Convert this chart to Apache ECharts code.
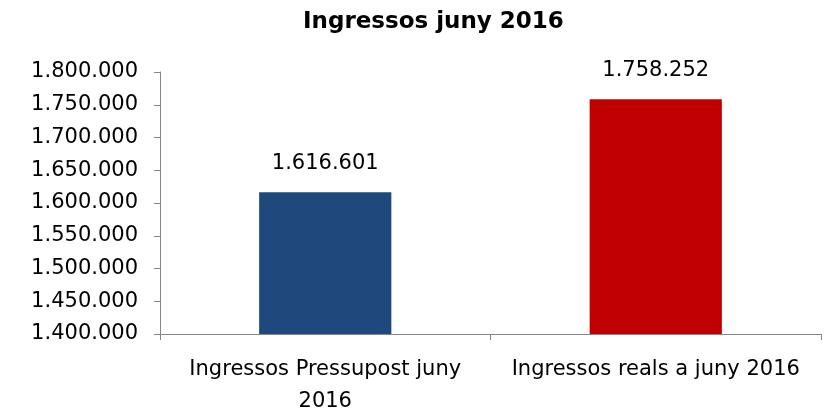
<!DOCTYPE html>
<html><head><meta charset="utf-8">
<script src="https://cdn.jsdelivr.net/npm/echarts@6/dist/echarts.min.js"></script>
<style>html,body{margin:0;padding:0;background:#fff}#c{width:827px;height:414px}</style>
</head><body><div id="c"></div>
<script>
const categories = ['Ingressos Pressupost juny\n2016', 'Ingressos reals a juny 2016'];
const values = [1616601, 1758252];
const barColors = ['#1F497D', '#C00000'];
const yMin = 1400000, yMax = 1800000, yStep = 50000;

function fmt(v){ return String(Math.round(v)).replace(/\B(?=(\d{3})+(?!\d))/g, '.'); }

const chart = echarts.init(document.getElementById('c'));
const font = '"DejaVu Sans", sans-serif';
chart.setOption({
  animation: false,
  title: { text: 'Ingressos juny 2016', left: 298, top: 6,
    textStyle: { fontFamily: font, fontWeight: 'bold', fontSize: 23, color: '#000' } },
  grid: { left: 160, right: 6, top: 72, bottom: 80, outerBoundsMode: 'none', containLabel: false },
  xAxis: { type: 'category', data: categories,
    axisLine: { lineStyle: { color: '#868686' } },
    axisTick: { show: true, length: 6, lineStyle: { color: '#868686' } },
    axisLabel: { fontFamily: font, fontSize: 21, color: '#000', margin: 20, lineHeight: 32, interval: 0 } },
  yAxis: { type: 'value', min: yMin, max: yMax, interval: yStep,
    splitLine: { show: false },
    axisLine: { show: true, lineStyle: { color: '#868686' } },
    axisTick: { show: true, length: 6, lineStyle: { color: '#868686' } },
    axisLabel: { fontFamily: font, fontSize: 21, color: '#000', margin: 22, formatter: fmt } },
  series: [{ type: 'bar', barWidth: '40%',
    data: values.map((v, i) => ({ value: v, itemStyle: { color: barColors[i] } })),
    label: { show: true, position: 'top', distance: 18, fontFamily: font, fontSize: 21, color: '#000',
      formatter: p => fmt(p.value) } }]
});
</script></body></html>
